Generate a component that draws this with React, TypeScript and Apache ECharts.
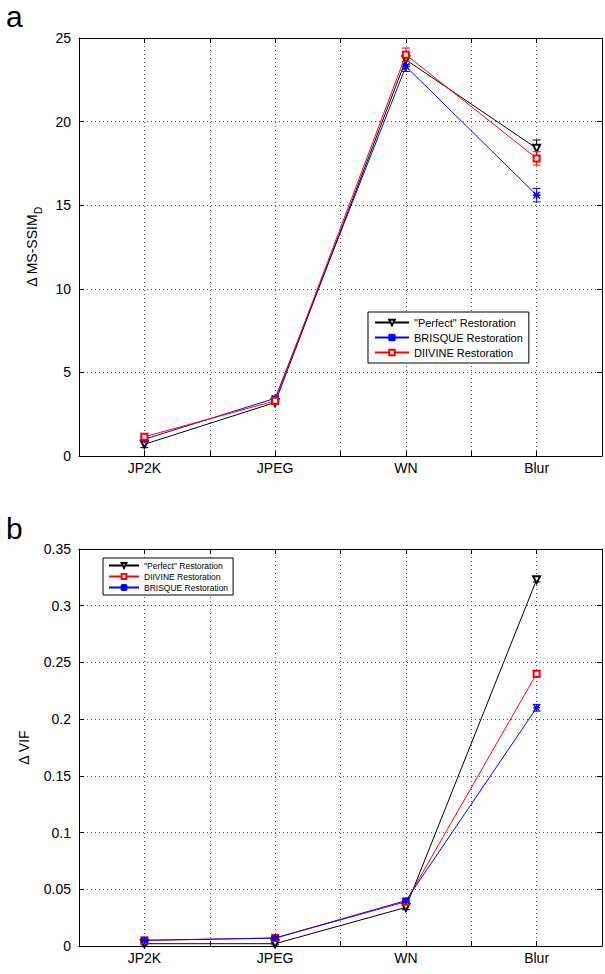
import React, { useEffect, useRef } from "react";
import * as echarts from "echarts";

const categories = ["JP2K", "JPEG", "WN", "Blur"];

// Panel a: Δ MS-SSIM_D
const ssimPerfect = [0.7, 3.2, 23.7, 18.4];
const ssimPerfectErr = [0.2, 0.1, 0.3, 0.5];
const ssimBrisque = [1.0, 3.45, 23.3, 15.6];
const ssimBrisqueErr = [0.15, 0.1, 0.3, 0.4];
const ssimDiivine = [1.15, 3.3, 24.0, 17.8];
const ssimDiivineErr = [0.2, 0.1, 0.4, 0.4];

// Panel b: Δ VIF
const vifPerfect = [0.002, 0.002, 0.034, 0.323];
const vifPerfectErr = [0.001, 0.001, 0.002, 0.002];
const vifDiivine = [0.005, 0.007, 0.039, 0.24];
const vifDiivineErr = [0.001, 0.001, 0.002, 0.003];
const vifBrisque = [0.005, 0.007, 0.04, 0.21];
const vifBrisqueErr = [0.001, 0.001, 0.002, 0.003];

const ssimTicks = { min: 0, max: 25, interval: 5 };
const vifTicks = { min: 0, max: 0.35, interval: 0.05 };

const FONT = "Liberation Sans, Arial, Helvetica, sans-serif";
const BLACK = "#000000";
const BLUE = "#0000ff";
const RED = "#ff0000";

const ASTERISK =
  "path://M-0.5,-5 L0.5,-5 L0.5,5 L-0.5,5 Z M-5,-0.5 L5,-0.5 L5,0.5 L-5,0.5 Z M-4,-4.7 L4.7,4 L4,4.7 L-4.7,-4 Z M4,-4.7 L4.7,-4 L-4,4.7 L-4.7,4 Z";

const P_NAME = '"Perfect" Restoration';
const B_NAME = "BRISQUE Restoration";
const D_NAME = "DIIVINE Restoration";

function pts(vals: number[]) {
  return vals.map((v, i) => [i + 1, v]);
}
function errPts(vals: number[], errs: number[]) {
  return vals.map((v, i) => [i + 1, v, errs[i]]);
}

function errorSeries(vals: number[], errs: number[], color: string, gi: number, z: number) {
  return {
    type: "custom",
    xAxisIndex: gi * 2,
    yAxisIndex: gi * 2,
    z,
    silent: true,
    data: errPts(vals, errs),
    renderItem: (params: any, api: any) => {
      const x = api.value(0);
      const y = api.value(1);
      const e = api.value(2);
      const top = api.coord([x, y + e]);
      const bot = api.coord([x, y - e]);
      const w = 4;
      const style = { stroke: color, lineWidth: 1 };
      return {
        type: "group",
        children: [
          { type: "line", shape: { x1: top[0], y1: top[1], x2: bot[0], y2: bot[1] }, style },
          { type: "line", shape: { x1: top[0] - w, y1: top[1], x2: top[0] + w, y2: top[1] }, style },
          { type: "line", shape: { x1: bot[0] - w, y1: bot[1], x2: bot[0] + w, y2: bot[1] }, style },
        ],
      };
    },
  };
}

function lineSeries(
  name: string,
  vals: number[],
  color: string,
  symbol: string,
  size: number,
  rotate: number,
  gi: number,
  z: number
) {
  return {
    type: "line",
    name,
    xAxisIndex: gi * 2,
    yAxisIndex: gi * 2,
    z,
    data: pts(vals),
    symbol,
    symbolSize: size,
    symbolRotate: rotate,
    showAllSymbol: true,
    lineStyle: { color, width: 1 },
    itemStyle: { color, borderColor: color, borderWidth: 1 },
    emphasis: { disabled: true },
  };
}

function xAxes(gi: number) {
  const common = {
    type: "value",
    gridIndex: gi,
    min: 0.5,
    max: 4.5,
    interval: 0.5,
  };
  return [
    {
      ...common,
      position: "bottom",
      axisLine: { show: true, onZero: false, lineStyle: { color: BLACK, width: 1 } },
      axisTick: { show: true, inside: true, length: 5, lineStyle: { color: BLACK } },
      axisLabel: {
        color: BLACK,
        fontSize: 14,
        fontFamily: FONT,
        margin: 5,
        formatter: (v: number) =>
          Math.abs(v - Math.round(v)) < 1e-6 && v >= 1 && v <= 4 ? categories[Math.round(v) - 1] : "",
      },
      splitLine: { show: true, lineStyle: { color: "#555", width: 1, type: [1, 3] } },
    },
    {
      ...common,
      position: "top",
      axisLine: { show: true, onZero: false, lineStyle: { color: BLACK, width: 1 } },
      axisTick: { show: true, inside: true, length: 5, lineStyle: { color: BLACK } },
      axisLabel: { show: false },
      splitLine: { show: false },
    },
  ];
}

function yAxes(gi: number, t: { min: number; max: number; interval: number }, name: string, rich: any) {
  const common = { type: "value", gridIndex: gi, min: t.min, max: t.max, interval: t.interval };
  return [
    {
      ...common,
      position: "left",
      name,
      nameLocation: "middle",
      nameGap: gi === 0 ? 40 : 48,
      nameRotate: 90,
      nameTextStyle: { color: BLACK, fontSize: 14, fontFamily: FONT, rich },
      axisLine: { show: true, onZero: false, lineStyle: { color: BLACK, width: 1 } },
      axisTick: { show: true, inside: true, length: 5, lineStyle: { color: BLACK } },
      axisLabel: { color: BLACK, fontSize: 14, fontFamily: FONT, margin: 8 },
      splitLine: { show: true, lineStyle: { color: "#555", width: 1, type: [1, 3] } },
    },
    {
      ...common,
      position: "right",
      axisLine: { show: true, onZero: false, lineStyle: { color: BLACK, width: 1 } },
      axisTick: { show: true, inside: true, length: 5, lineStyle: { color: BLACK } },
      axisLabel: { show: false },
      splitLine: { show: false },
    },
  ];
}

export default function App() {
  const ref = useRef<HTMLDivElement>(null);
  useEffect(() => {
    if (!ref.current) return;
    const chart = echarts.init(ref.current, null, { renderer: "svg" });
    const option: any = {
      animation: false,
      backgroundColor: "#ffffff",
      textStyle: { fontFamily: FONT },
      graphic: [
        { type: "text", left: 6, top: 1, style: { text: "a", fontSize: 30, fontFamily: FONT, fill: BLACK } },
        { type: "text", left: 6, top: 513, style: { text: "b", fontSize: 30, fontFamily: FONT, fill: BLACK } },
      ],
      grid: [
        { left: 79, top: 38, width: 530, height: 418, containLabel: false },
        { left: 79, top: 549, width: 526, height: 397, containLabel: false },
      ],
      xAxis: [...xAxes(0), ...xAxes(1)],
      yAxis: [
        ...yAxes(0, ssimTicks, "{m|Δ MS-SSIM}{s|D}", {
          m: { fontSize: 14, fontFamily: FONT, color: BLACK, lineHeight: 20, verticalAlign: "bottom" },
          s: { fontSize: 10, fontFamily: FONT, color: BLACK, lineHeight: 20, verticalAlign: "bottom", padding: [0, 0, -4, 0] },
        }),
        ...yAxes(1, vifTicks, "Δ VIF", undefined),
      ],
      legend: [
        {
          data: [P_NAME, B_NAME, D_NAME],
          orient: "vertical",
          left: 368,
          top: 312,
          padding: [5, 6, 5, 6],
          itemGap: 4,
          itemWidth: 34,
          itemHeight: 7,
          borderColor: BLACK,
          borderWidth: 1,
          backgroundColor: "#ffffff",
          selectedMode: false,
          textStyle: { color: BLACK, fontSize: 11, fontFamily: FONT },
        },
        {
          data: [P_NAME, D_NAME, B_NAME],
          orient: "vertical",
          left: 103,
          top: 558,
          padding: [3, 5, 3, 5],
          itemGap: 2,
          itemWidth: 30,
          itemHeight: 6,
          borderColor: BLACK,
          borderWidth: 1,
          backgroundColor: "#ffffff",
          selectedMode: false,
          textStyle: { color: BLACK, fontSize: 8.5, fontFamily: FONT },
        },
      ],
      series: [
        // panel a
        errorSeries(ssimPerfect, ssimPerfectErr, BLACK, 0, 2),
        lineSeries(P_NAME, ssimPerfect, BLACK, "emptyTriangle", 7, 180, 0, 3),
        errorSeries(ssimBrisque, ssimBrisqueErr, BLUE, 0, 4),
        lineSeries(B_NAME, ssimBrisque, BLUE, ASTERISK, 7, 0, 0, 5),
        errorSeries(ssimDiivine, ssimDiivineErr, RED, 0, 6),
        lineSeries(D_NAME, ssimDiivine, RED, "emptyRect", 6, 0, 0, 7),
        // panel b
        errorSeries(vifPerfect, vifPerfectErr, BLACK, 1, 2),
        lineSeries(P_NAME, vifPerfect, BLACK, "emptyTriangle", 7, 180, 1, 3),
        errorSeries(vifDiivine, vifDiivineErr, RED, 1, 4),
        lineSeries(D_NAME, vifDiivine, RED, "emptyRect", 6, 0, 1, 5),
        errorSeries(vifBrisque, vifBrisqueErr, BLUE, 1, 6),
        lineSeries(B_NAME, vifBrisque, BLUE, ASTERISK, 6, 0, 1, 7),
      ],
    };
    chart.setOption(option);
    return () => chart.dispose();
  }, []);
  return (
    <div
      ref={ref}
      style={{ position: "fixed", left: 0, top: 0, width: 605, height: 974, background: "#fff" }}
    />
  );
}
